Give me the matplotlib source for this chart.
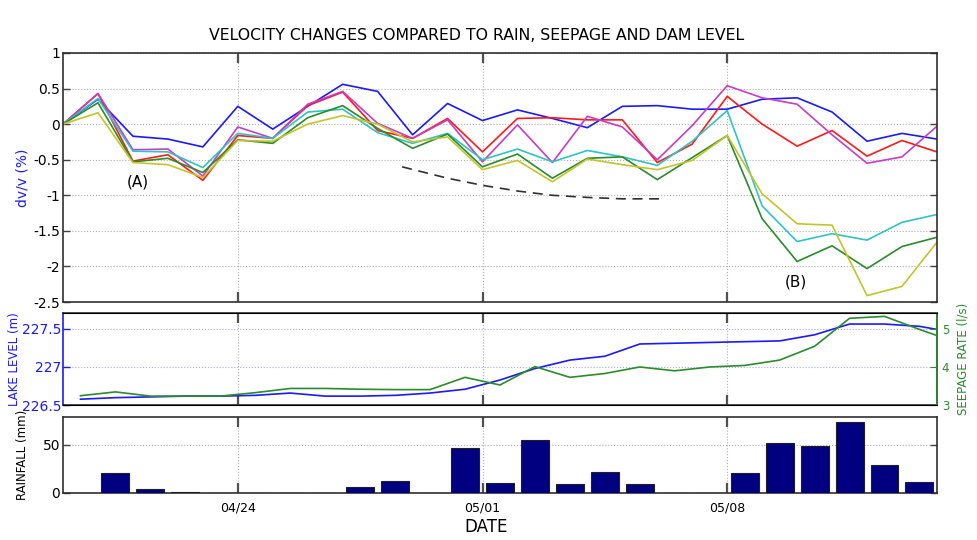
import numpy as np
import pandas as pd
import matplotlib
matplotlib.use('Agg')
import matplotlib.pyplot as plt
import matplotlib.dates as mdates

plt.rcParams['font.family'] = ['DejaVu Sans']

start = pd.Timestamp('2012-04-19')
days = pd.date_range(start, periods=26, freq='D')

# dv/v (%) per station pair, one value per day
dv_blue = [0, 0.35, -0.17, -0.21, -0.32, 0.25, -0.07, 0.25, 0.56, 0.46, -0.15, 0.29, 0.05,
           0.20, 0.08, -0.05, 0.25, 0.26, 0.21, 0.21, 0.35, 0.37, 0.17, -0.24, -0.13, -0.21]
dv_red = [0, 0.43, -0.52, -0.43, -0.79, -0.16, -0.20, 0.26, 0.45, -0.09, -0.20, 0.08, -0.39,
          0.08, 0.09, 0.06, 0.06, -0.54, -0.28, 0.39, 0.0, -0.31, -0.09, -0.45, -0.23, -0.39]
dv_magenta = [0, 0.43, -0.36, -0.35, -0.73, -0.04, -0.20, 0.28, 0.46, 0.01, -0.20, 0.06, -0.53,
              -0.01, -0.54, 0.11, -0.04, -0.50, -0.02, 0.54, 0.37, 0.28, -0.15, -0.55, -0.46, -0.03]
dv_cyan = [0, 0.36, -0.38, -0.39, -0.61, -0.13, -0.20, 0.17, 0.21, -0.12, -0.27, -0.13, -0.50,
           -0.35, -0.53, -0.37, -0.46, -0.58, -0.24, 0.19, -1.15, -1.65, -1.54, -1.63, -1.38, -1.27]
dv_green = [0, 0.30, -0.53, -0.48, -0.68, -0.22, -0.27, 0.09, 0.26, -0.06, -0.34, -0.14, -0.60,
            -0.42, -0.76, -0.48, -0.46, -0.78, -0.47, -0.16, -1.33, -1.93, -1.71, -2.03, -1.72, -1.59]
dv_yellow = [0, 0.16, -0.54, -0.57, -0.75, -0.23, -0.24, 0.0, 0.12, 0.0, -0.25, -0.18, -0.64,
             -0.51, -0.81, -0.49, -0.57, -0.64, -0.51, -0.16, -0.98, -1.40, -1.42, -2.41, -2.28, -1.66]

# hand drawn trend (dashed)
trend_days = [9.7, 11, 12, 13, 14, 15, 16, 17.05]
trend_vals = [-0.60, -0.76, -0.86, -0.94, -1.00, -1.03, -1.05, -1.05]

# lake level and seepage (sampled mid-day, last one at end of period)
level_days = list(np.arange(25) + 0.5) + [25.0]
lake_level = [226.58, 226.60, 226.61, 226.62, 226.62, 226.63, 226.66, 226.62, 226.62, 226.63,
              226.66, 226.71, 226.83, 226.98, 227.09, 227.14, 227.30, 227.31, 227.32, 227.33,
              227.34, 227.42, 227.56, 227.56, 227.53, 227.49]
seepage = [3.25, 3.35, 3.24, 3.24, 3.24, 3.33, 3.44, 3.44, 3.42, 3.41, 3.41, 3.73, 3.53,
           4.01, 3.73, 3.83, 4.00, 3.90, 4.00, 4.04, 4.18, 4.54, 5.27, 5.32, 4.98, 4.82]

# daily rainfall (mm), bar centred mid-day
rain_days = np.arange(25) + 0.5
rainfall = [0, 20, 3.5, 1, 0, 0, 0, 0, 6, 12.5, 0, 46, 10, 55, 9, 21, 9, 0, 0,
            20, 52, 49, 74, 29, 11]

tick_dates = ['2012-04-24', '2012-05-01', '2012-05-08']


def to_date(offsets):
    return start + pd.to_timedelta(np.asarray(offsets, dtype=float), unit='D')


fig = plt.figure(figsize=(9.77, 5.40), dpi=100)
ax1 = fig.add_axes([0.0645, 0.4407, 0.8945, 0.4612])
ax2 = fig.add_axes([0.0645, 0.2494, 0.8945, 0.1704])
ax3 = fig.add_axes([0.0645, 0.0876, 0.8945, 0.1407])

xlim = (start, start + pd.Timedelta(days=25))
ticks = pd.to_datetime(tick_dates)

for ax in (ax1, ax2, ax3):
    ax.set_xlim(*xlim)
    ax.set_xticks(ticks)
    ax.xaxis.set_major_formatter(mdates.DateFormatter('%m/%d'))
    ax.grid(True, axis='x', linestyle=':', color='#b0b0b0', linewidth=0.8)
    ax.tick_params(axis='x', direction='in', length=7, width=1.6, color='#505050',
                   top=True, labelsize=9)
    ax.tick_params(axis='y', direction='in', length=5, width=1.0, color='#404040', pad=2)
    for s in ax.spines.values():
        s.set_linewidth(1.2)
        s.set_color('#303030')

# top panel
series = [(dv_blue, '#1a1aff'), (dv_red, '#ff1a1a'), (dv_magenta, '#c83cc8'),
          (dv_cyan, '#2ec4c4'), (dv_green, '#2a8c2a'), (dv_yellow, '#c4c42a')]
for vals, col in series:
    ax1.plot(days, vals, color=col, linewidth=1.2)
ax1.plot(to_date(trend_days), trend_vals, color='#303030', linewidth=1.2,
         linestyle=(0, (6, 4)))
ax1.set_ylim(-2.5, 1)
ax1.set_yticks([1, 0.5, 0, -0.5, -1, -1.5, -2, -2.5])
ax1.set_yticklabels(['1', '0.5', '0', '-0.5', '-1', '-1.5', '-2', '-2.5'])
ax1.tick_params(axis='y', labelsize=10, right=True)
ax1.grid(True, axis='y', linestyle=':', color='#b0b0b0', linewidth=0.8)
ax1.tick_params(axis='x', labelbottom=False)
ax1.set_ylabel('dv/v (%)', color='#1a1aff', fontsize=10, labelpad=3)
ax1.text(to_date([2.14])[0], -0.81, '(A)', fontsize=11, ha='center', va='center')
ax1.text(to_date([20.97])[0], -2.22, '(B)', fontsize=11, ha='center', va='center')
fig.text(477 / 977, 1 - 35 / 540,
         'VELOCITY CHANGES COMPARED TO RAIN, SEEPAGE AND DAM LEVEL',
         fontsize=11.3, ha='center', va='center')

# middle panel
ax2.plot(to_date(level_days), lake_level, color='#1a1aff', linewidth=1.2)
ax2.set_ylim(226.5, 227.7)
ax2.set_yticks([226.5, 227, 227.5])
ax2.set_yticklabels(['226.5', '227', '227.5'])
ax2.tick_params(axis='y', labelsize=10, colors='#1a1aff', pad=1)
ax2.grid(True, axis='y', linestyle=':', color='#a8a8ff', linewidth=0.8)
ax2.tick_params(axis='x', labelbottom=False)
ax2.set_ylabel('LAKE LEVEL (m)', color='#1a1aff', fontsize=8.5, labelpad=1)
ax2.spines['left'].set_color('#1a1aff')

ax2r = ax2.twinx()
ax2r.plot(to_date(level_days), seepage, color='#2a8c2a', linewidth=1.2)
ax2r.set_ylim(3, 5.4)
ax2r.set_yticks([3, 4, 5])
ax2r.tick_params(axis='y', direction='in', length=5, labelsize=8.5, colors='#2a8c2a')
ax2r.set_ylabel('SEEPAGE RATE (l/s)', color='#2a8c2a', fontsize=8.5, labelpad=5)
ax2r.spines['right'].set_color('#2a8c2a')
ax2r.spines['right'].set_linewidth(1.2)
ax2r.spines['left'].set_visible(False)

# bottom panel
ax3.bar(to_date(rain_days), rainfall, width=0.8, color='#000080',
        edgecolor='#202020', linewidth=0.8, zorder=3)
ax3.set_ylim(0, 79)
ax3.set_yticks([0, 50])
ax3.tick_params(axis='y', labelsize=10, right=True)
ax3.grid(True, axis='y', linestyle=':', color='#b0b0b0', linewidth=0.8)
ax3.set_ylabel('RAINFALL (mm)', fontsize=8.5, labelpad=10)
ax3.tick_params(axis='x', pad=6)

fig.text(486 / 977, 1 - 527 / 540, 'DATE', fontsize=12, ha='center', va='center')

plt.savefig('out.png', dpi=100)
